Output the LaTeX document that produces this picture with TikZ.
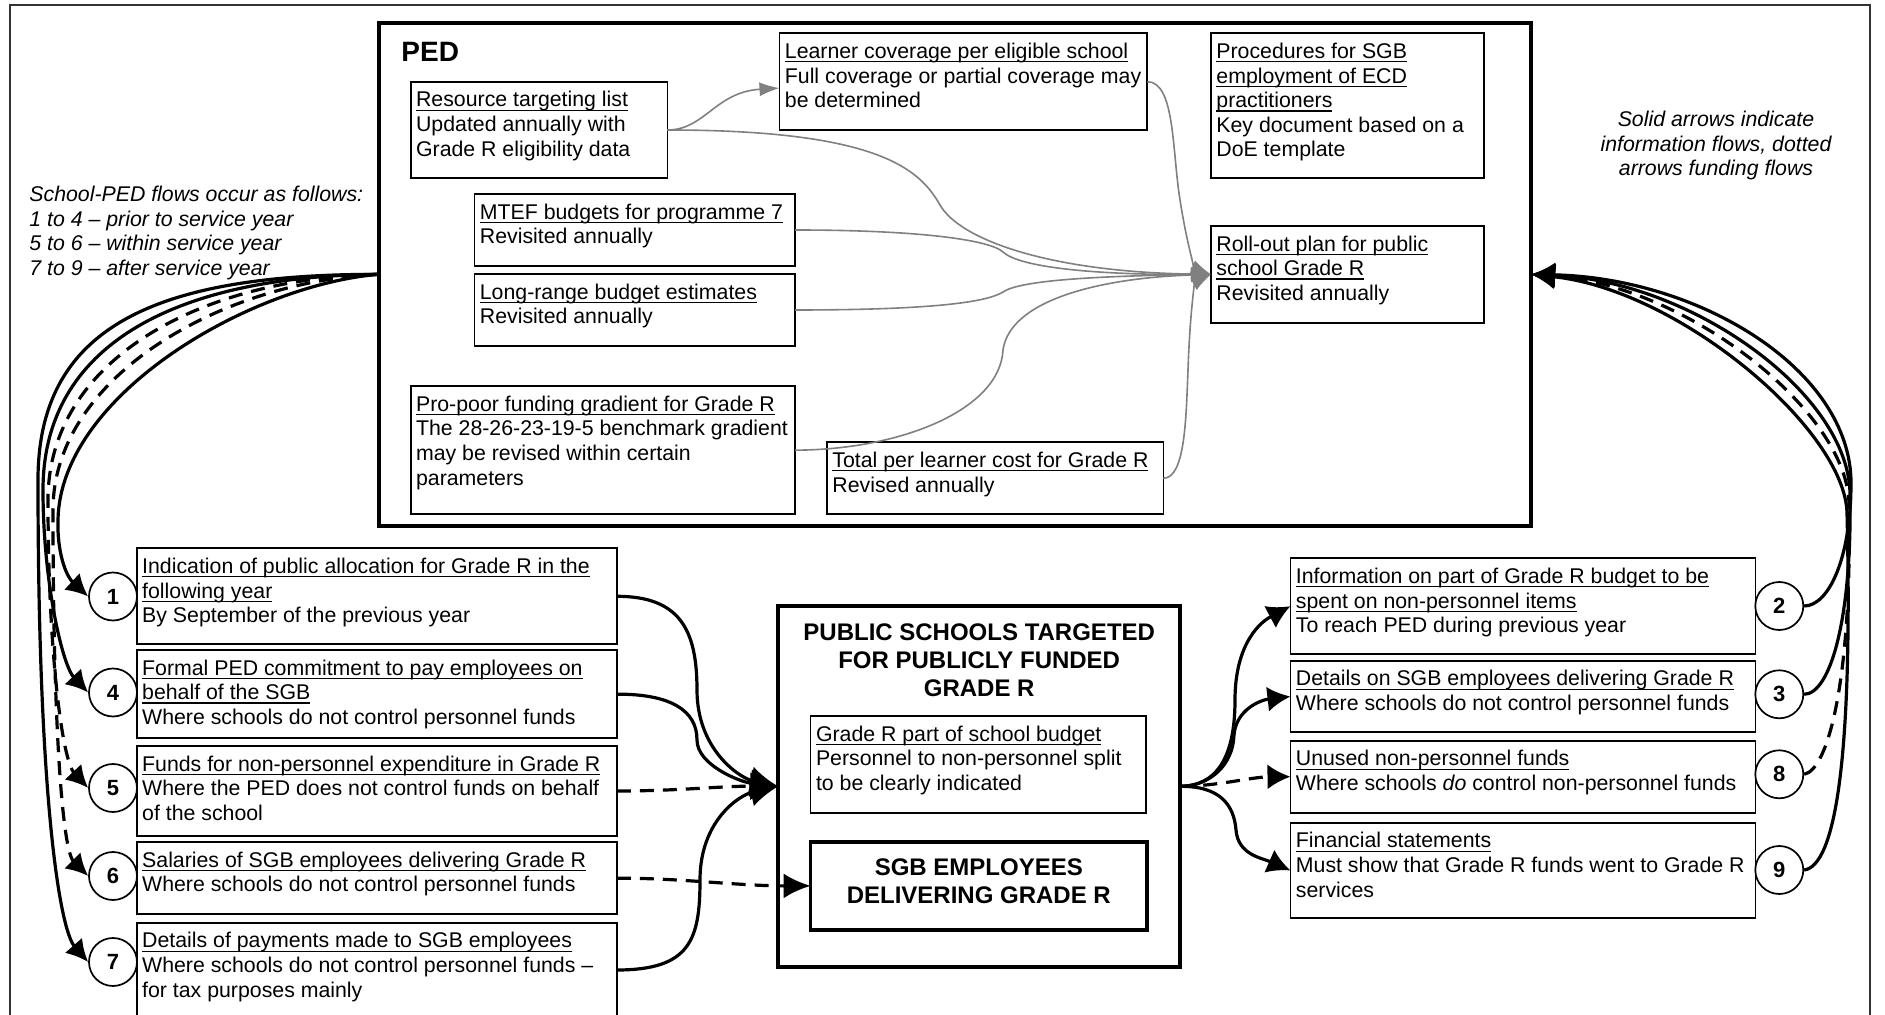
\documentclass[tikz,border=0pt]{standalone}
\usepackage{fontspec}
\setmainfont{Liberation Sans}
\usetikzlibrary{arrows.meta,fit}
\newsavebox{\ulnbox}
\newcommand{\uln}[1]{\sbox{\ulnbox}{#1}\rlap{\rule[-1.9pt]{\wd\ulnbox}{0.6pt}}\usebox{\ulnbox}}
\newcommand{\regfont}{\fontsize{10.65}{12.3}\selectfont}
\newcommand{\titlefont}{\fontsize{12}{14}\selectfont\bfseries}
\newcommand{\drawbox}[6]{%
  \node[tbox, fit={(#2,#3) (#4,#5)}] (#1) {};
  \node[ttext] (#1txt) at ([shift={(2.5pt,-3.8pt)}]#1.north west) {\strut #6};
}
\begin{document}
\begin{tikzpicture}[x=0.5pt, y=-0.5pt,
  tbox/.style={draw, line width=0.85pt, inner sep=0pt, outer sep=0pt},
  pbox/.style={draw, line width=2pt, inner sep=0pt, outer sep=0pt},
  sbox/.style={draw, line width=1.8pt, inner sep=0pt, outer sep=0pt},
  ttext/.style={anchor=north west, inner sep=0pt, align=left, font=\regfont},
  circ/.style={circle, draw, line width=0.85pt, minimum size=24pt, inner sep=0pt, fill=white, font=\fontsize{11}{13}\selectfont\bfseries},
  flow/.style={line width=1.6pt},
  fund/.style={line width=1.6pt, dash pattern=on 7pt off 4.5pt},
  gflow/.style={draw=gray, line width=0.8pt, -{Latex[length=10pt,width=7pt]}},
  bigtip/.style={-{Latex[length=14pt,width=14pt]}},
  sgbtip/.style={-{Latex[length=13.5pt,width=12.5pt]}},
  rtip/.style={-{Latex[length=11.5pt,width=12.5pt]}},
  ctip/.style={-{Latex[length=11pt,width=11.5pt]}},
  ptip/.style={-{Latex[length=12pt,width=12.5pt]}},
  frame/.style={draw=black!80, line width=0.9pt}]
\useasboundingbox (0,0) rectangle (1885,1015);
\fill[white] (0,0) rectangle (1885,1015);
% outer frame
\draw[frame] (9.6,1030) -- (9.6,4.7) -- (1870,4.7) -- (1870,1030);

% PED area
\node[pbox, fit={(378.6,22.7) (1531,526)}] (ped) {};
\node[anchor=base west, inner sep=0pt, font=\fontsize{14}{16}\selectfont\bfseries] (pedlabel) at (401,61.5) {PED};

\drawbox{res}{410.7}{81.7}{667.4}{178.3}{\uln{Resource targeting list}\\Updated annually with\\Grade R eligibility data}
\drawbox{lrn}{779.5}{33.3}{1147.3}{130}{\uln{Learner coverage per eligible school}\\Full coverage or partial coverage may\\be determined}
\drawbox{proc}{1211}{33.3}{1483.7}{178.3}{\uln{Procedures for SGB}\\\uln{employment of ECD}\\\uln{practitioners}\\Key document based on a\\DoE template}
\drawbox{mtef}{474.5}{194}{795}{266}{\uln{MTEF budgets for programme 7}\\Revisited annually}
\drawbox{lrb}{474.5}{274}{795}{346}{\uln{Long-range budget estimates}\\Revisited annually}
\drawbox{roll}{1211}{226}{1483.7}{322.7}{\uln{Roll-out plan for public}\\\uln{school Grade R}\\Revisited annually}
\drawbox{pro}{410.7}{386}{795}{514.3}{\uln{Pro-poor funding gradient for Grade R}\\The 28-26-23-19-5 benchmark gradient\\may be revised within certain\\parameters}
\drawbox{tot}{827}{442.3}{1163.4}{514.3}{\uln{Total per learner cost for Grade R}\\Revised annually}

% gray information links
\draw[gflow] (res.east) .. controls (705,130) and (715,92) .. (lrn.182);
\draw[gflow] (res.east) .. controls (880,130) and (920,170) .. (940,205) .. controls (960,240) and (1050,272) .. (roll.west);
\draw[gflow] (lrn.east) .. controls (1175,82) and (1172,150) .. (1180,200) .. controls (1187,245) and (1195,268) .. (roll.west);
\draw[gflow] (mtef.east) .. controls (920,230) and (990,240) .. (1003,252) .. controls (1020,268) and (1100,275) .. (roll.west);
\draw[gflow] (lrb.east) .. controls (950,310) and (990,300) .. (1003,292) .. controls (1020,280) and (1100,276) .. (roll.west);
\draw[gflow] (pro.east) .. controls (900,450) and (1000,410) .. (1003,350) .. controls (1010,300) and (1100,278) .. (roll.west);
\draw[gflow] (tot.east) .. controls (1185,478) and (1186,420) .. (1188,370) .. controls (1190,310) and (1195,283) .. (roll.west);

% side notes
\node[anchor=north west, inner sep=0pt, align=left, font=\regfont\itshape] (lnote) at (29,184) {\strut School-PED flows occur as follows:\\1 to 4 – prior to service year\\5 to 6 – within service year\\7 to 9 – after service year};
\node[anchor=north, inner sep=0pt, align=center, font=\regfont\itshape] (rnote) at (1716,109) {\strut Solid arrows indicate\\information flows, dotted\\arrows funding flows};

% left boxes
\drawbox{b1}{136.8}{548.3}{616.8}{644.3}{\uln{Indication of public allocation for Grade R in the}\\\uln{following year}\\By September of the previous year}
\drawbox{b4}{136.8}{650}{616.8}{738.3}{\uln{Formal PED commitment to pay employees on}\\\uln{behalf of the SGB}\\Where schools do not control personnel funds}
\drawbox{b5}{136.8}{746}{616.8}{836}{\uln{Funds for non-personnel expenditure in Grade R}\\Where the PED does not control funds on behalf\\of the school}
\drawbox{b6}{136.8}{842}{616.8}{914.3}{\uln{Salaries of SGB employees delivering Grade R}\\Where schools do not control personnel funds}
\drawbox{b7}{136.8}{922.7}{616.8}{1017.3}{\uln{Details of payments made to SGB employees}\\Where schools do not control personnel funds –\\for tax purposes mainly}

% right boxes
\drawbox{r2}{1290.5}{558.3}{1755.4}{654}{\uln{Information on part of Grade R budget to be}\\\uln{spent on non-personnel items}\\To reach PED during previous year}
\drawbox{r3}{1290.5}{660.7}{1755.4}{732.3}{\uln{Details on SGB employees delivering Grade R}\\Where schools do not control personnel funds}
\drawbox{r8}{1290.5}{740.7}{1755.4}{812.7}{\uln{Unused non-personnel funds}\\Where schools \textit{do} control non-personnel funds}
\drawbox{r9}{1290.5}{822.7}{1755.4}{918.3}{\uln{Financial statements}\\Must show that Grade R funds went to Grade R\\services}

% public schools
\node[pbox, fit={(778.2,606) (1180.3,966.7)}] (pub) {};
\node[anchor=north, inner sep=0pt, align=center, font=\titlefont] (pubtitle) at (979.2,620.4) {\strut PUBLIC SCHOOLS TARGETED\\FOR PUBLICLY FUNDED\\GRADE R};
\drawbox{gpart}{810.6}{716}{1146}{812.7}{\uln{Grade R part of school budget}\\Personnel to non-personnel split\\to be clearly indicated}
\node[sbox, fit={(810.6,841.7) (1147,930)}] (sgb) {};
\node[anchor=north, inner sep=0pt, align=center, font=\titlefont] (sgbtitle) at (978.8,855.4) {\strut SGB EMPLOYEES\\DELIVERING GRADE R};

% links into public schools
\draw[flow, bigtip] (b1.east) .. controls (680,596.3) and (697,630) .. (697,690) .. controls (697,750) and (740,778) .. (pub.west);
\draw[flow, bigtip] (b4.east) .. controls (670,694) and (697,710) .. (697,740) .. controls (697,765) and (740,782) .. (pub.west);
\draw[fund, bigtip] (b5.east) .. controls (680,791) and (720,786) .. (pub.west);
\draw[flow, bigtip] (b7.east) .. controls (690,970) and (700,940) .. (700,880) .. controls (700,820) and (740,795) .. (pub.west);
\draw[fund, sgbtip] (b6.east) .. controls (680,878) and (740,886) .. (sgb.west);

% links out of public schools
\draw[flow, rtip] (pub.east) .. controls (1215,786) and (1235,760) .. (1235,700) .. controls (1235,650) and (1255,625) .. (r2.west);
\draw[flow, rtip] (pub.east) .. controls (1210,786) and (1233,765) .. (1234,735) .. controls (1236,710) and (1260,700) .. (r3.west);
\draw[fund, rtip] (pub.east) .. controls (1220,786) and (1250,777) .. (r8.west);
\draw[flow, rtip] (pub.east) .. controls (1220,786) and (1234,805) .. (1236,830) .. controls (1238,855) and (1262,858) .. (r9.west);

% circles
\node[circ] (c1) at (113,596.5) {1};
\node[circ] (c4) at (113,692.5) {4};
\node[circ] (c5) at (113,788) {5};
\node[circ] (c6) at (113,876) {6};
\node[circ] (c7) at (113,962) {7};
\node[circ] (c2) at (1779.3,606) {2};
\node[circ] (c3) at (1779.3,694.3) {3};
\node[circ] (c8) at (1779.3,774.3) {8};
\node[circ] (c9) at (1779.3,870) {9};

% left bundle PED -> schools
\draw[flow, ctip] (ped.west) .. controls (250,285) and (60,395) .. (58,520) .. controls (57,550) and (65,575) .. (c1.west);
\draw[flow, ctip] (ped.west) .. controls (175,276) and (43,345) .. (43,490) .. controls (43,580) and (62,665) .. (c4.west);
\draw[fund, ctip] (ped.west) .. controls (200,278) and (48,360) .. (48,500) .. controls (48,650) and (62,760) .. (c5.west);
\draw[fund, ctip] (ped.west) .. controls (225,281) and (53,375) .. (53,510) .. controls (53,720) and (62,850) .. (c6.west);
\draw[flow, ctip] (ped.west) .. controls (150,274) and (38,330) .. (38,480) .. controls (38,800) and (60,930) .. (c7.west);

% right bundle schools -> PED
\draw[flow, ptip] (c2.east) .. controls (1828,606) and (1851,560) .. (1851,483) .. controls (1851,370) and (1700,278) .. (ped.east);
\draw[flow, ptip] (c3.east) .. controls (1830,694) and (1852,620) .. (1850,495) .. controls (1850,395) and (1693,281) .. (ped.east);
\draw[fund, ptip] (c8.east) .. controls (1828,770) and (1852,680) .. (1849,505) .. controls (1849,412) and (1686,285) .. (ped.east);
\draw[flow, ptip] (c9.east) .. controls (1835,866) and (1853,760) .. (1847,513) .. controls (1845,430) and (1680,290) .. (ped.east);
\end{tikzpicture}
\end{document}
